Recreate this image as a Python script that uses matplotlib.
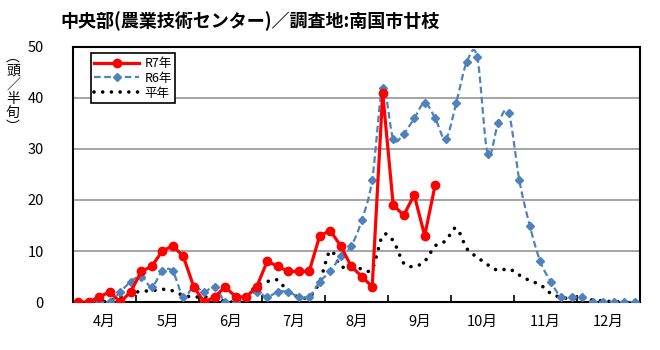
import numpy as np
import matplotlib
matplotlib.use("Agg")
import matplotlib.pyplot as plt

plt.rcParams['font.family'] = ['Noto Sans CJK JP', 'DejaVu Sans']

# 半旬ごとの誘殺数 (4月第1半旬〜12月第6半旬)
months = ["4月", "5月", "6月", "7月", "8月", "9月", "10月", "11月", "12月"]
r7 = [0, 0, 1, 2, 0, 2, 6, 7, 10, 11, 9, 3, 0, 1, 3, 1, 1, 3, 8, 7, 6, 6, 6,
      13, 14, 11, 7, 5, 3, 41, 19, 17, 21, 13, 23]
r6 = [0, 0, 0, 0, 2, 4, 5, 3, 6, 6, 1, 3, 2, 3, 0, 0, 1, 2, 1, 2, 2, 1, 1, 4,
      6, 9, 11, 16, 24, 42, 32, 33, 36, 39, 36, 32, 39, 47, 48, 29, 35, 37, 24,
      15, 8, 4, 1, 1, 1, 0, 0, 0, 0, 0]
normal = [0, 0, 0, 0.3, 1, 1.7, 2.1, 2.2, 2.5, 2.2, 1.3, 1, 1, 0.8, 0.1, 0.1,
          1.2, 3.2, 4, 4.3, 2, 1, 1, 4, 10, 7, 7, 6.5, 6.5, 13, 12, 7.6, 7, 8,
          11, 12, 14.5, 10.5, 8.8, 7.3, 6.2, 6.5, 5.3, 4.2, 3.4, 1.7, 0.9, 0.7,
          0.6, 0.4, 0.2, 0.1, 0, 0]


def smooth(y, n=12):
    # Excel風の平滑線 (Catmull-Rom)
    y = np.asarray(y, float)
    x = np.arange(len(y)) + 0.5
    p = np.concatenate([[y[0]], y, [y[-1]]])
    px = np.concatenate([[x[0]], x, [x[-1]]])
    xs, ys = [], []
    t = np.linspace(0, 1, n, endpoint=False)
    for i in range(1, len(p) - 2):
        for arr, out in ((px, xs), (p, ys)):
            p0, p1, p2, p3 = arr[i - 1], arr[i], arr[i + 1], arr[i + 2]
            out.extend(0.5 * ((2 * p1) + (-p0 + p2) * t
                              + (2 * p0 - 5 * p1 + 4 * p2 - p3) * t ** 2
                              + (-p0 + 3 * p1 - 3 * p2 + p3) * t ** 3))
    xs.append(x[-1]); ys.append(y[-1])
    return np.array(xs), np.array(ys)


fig = plt.figure(figsize=(6.6, 3.5), dpi=100)
ax = fig.add_axes([0.1106, 0.137, 0.859, 0.729])

blue = "#4F81BD"
sx, sy = smooth(normal)
ax.plot(sx, sy, color="black", lw=2.6, linestyle=(0, (0.01, 2.4)),
        dash_capstyle="round", zorder=2)
sx, sy = smooth(r6)
ax.plot(sx, sy, color=blue, lw=1.6, linestyle=(0, (3, 1.6)), zorder=3)
ax.plot(np.arange(len(r6)) + 0.5, r6, linestyle="none", marker="D",
        color=blue, markersize=3.8, zorder=3)
ax.plot(np.arange(len(r7)) + 0.5, r7, color="red", lw=2.3, marker="o",
        markersize=6, zorder=4)

# 凡例用ダミー
h7, = ax.plot([], [], color="red", lw=2.3, marker="o", markersize=6)
h6, = ax.plot([], [], color=blue, lw=1.6, linestyle=(0, (3, 1.6)),
              marker="D", markersize=3.8)
hn, = ax.plot([], [], color="black", lw=2.6, linestyle=(0, (0.01, 2.4)),
              dash_capstyle="round")
leg = ax.legend([h7, h6, hn], ["R7年", "R6年", "平年"], loc="upper left",
                bbox_to_anchor=(0.02, 1.0), fontsize=9, handlelength=3.6,
                handletextpad=0.4, labelspacing=0.15, borderpad=0.3,
                fancybox=False, framealpha=1, edgecolor="black")
leg.get_frame().set_linewidth(1.2)

ax.set_xlim(0, 54)
ax.set_ylim(0, 50)
ax.set_yticks(range(0, 51, 10))
ax.grid(axis="y", color="#8c8c8c", lw=1.1)
ax.set_axisbelow(True)
ax.tick_params(axis="y", length=0, pad=21, labelsize=10.5)

ax.set_xticks(range(6, 54, 6))
ax.set_xticklabels([])
ax.set_xticks(np.arange(3, 54, 6), minor=True)
ax.set_xticklabels(months, minor=True)
ax.tick_params(axis="x", which="major", direction="in", length=5, width=1.2)
ax.tick_params(axis="x", which="minor", length=0, pad=9, labelsize=10.5)

for s in ax.spines.values():
    s.set_color("black")
    s.set_linewidth(1.5)

fig.text(60 / 660, 1 - 21 / 350, "中央部(農業技術センター)／調査地:南国市廿枝",
         fontsize=13, fontweight="bold", va="center", ha="left")
fig.text(13 / 660, 1 - 92 / 350, "︵\n頭\n／\n半\n旬\n︶", fontsize=10,
         ha="center", va="center", linespacing=1.0)

fig.savefig("out.png", dpi=100)
